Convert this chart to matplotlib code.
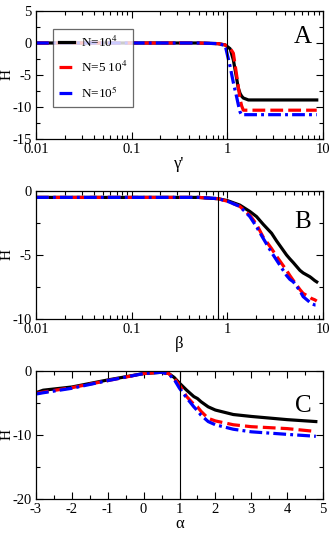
import numpy as np
import matplotlib
matplotlib.use("Agg")
import matplotlib.pyplot as plt
from matplotlib.ticker import FixedLocator, LogLocator, NullFormatter

plt.rcParams['font.family'] = ['Liberation Serif', 'DejaVu Serif']
plt.rcParams['mathtext.fontset'] = 'stix'
plt.rcParams['axes.unicode_minus'] = False

labels = ["N=10$^{4}$", "N=5 10$^{4}$", "N=10$^{5}$"]
colors = ["black", "red", "blue"]

# Panel A: H vs gamma'
gA = [0.01, 0.1, 0.5, 0.8, 0.95, 1.07, 1.156, 1.25, 1.30, 1.36, 1.41, 1.47, 1.66, 3.0, 8.6]
hA_1 = [0.0, 0.0, 0.0, -0.1, -0.3, -0.9, -2.65, -5.5, -7.0, -7.9, -8.3, -8.6, -8.9, -8.9, -8.9]
hA_2 = [0.0, 0.0, 0.0, -0.1, -0.3, -0.8, -1.6, -5.0, -6.8, -8.8, -9.8, -10.5, -10.5, -10.5, -10.5]
hA_3 = [0.0, 0.0, 0.0, -0.1, -0.4, -3.7, -6.2, -8.4, -9.6, -10.8, -11.25, -11.2, -11.2, -11.2, -11.2]

# Panel B: H vs beta
bB = [0.01, 0.1, 0.5, 0.8, 1.0, 1.35, 1.72, 2.02, 2.37, 2.9, 3.27, 4.16, 4.5, 4.9, 5.74, 6.2, 7.3, 7.6, 8.2, 8.6]
hB_1 = [-0.5, -0.5, -0.5, -0.6, -0.75, -1.1, -1.6, -2.0, -2.6, -3.3, -3.9, -5.0, -5.3, -5.6, -6.2, -6.4, -6.7, -6.8, -7.0, -7.1]
hB_2 = [-0.5, -0.5, -0.5, -0.6, -0.8, -1.2, -1.9, -2.6, -3.6, -4.5, -5.1, -6.2, -6.6, -7.0, -7.7, -8.0, -8.3, -8.4, -8.5, -8.6]
hB_3 = [-0.5, -0.5, -0.5, -0.6, -0.8, -1.2, -2.0, -2.8, -3.7, -4.8, -5.4, -6.6, -6.9, -7.1, -7.8, -8.25, -8.7, -8.8, -8.9, -8.9]

# Panel C: H vs alpha
aC = [-3.0, -2.8, -2.0, -1.0, 0.0, 0.5, 0.7, 0.85, 1.0, 1.2, 1.4, 1.5, 1.6, 1.8, 2.0, 2.5, 3.0, 4.0, 4.8]
hC_1 = [-3.4, -3.0, -2.5, -1.4, -0.4, -0.2, -0.4, -1.0, -1.9, -3.0, -4.0, -4.3, -4.8, -5.6, -6.1, -6.8, -7.1, -7.6, -7.9]
hC_2 = [-3.5, -3.3, -2.6, -1.5, -0.4, -0.2, -0.4, -1.1, -2.2, -4.0, -5.2, -5.6, -6.3, -7.4, -7.8, -8.4, -8.7, -9.0, -9.45]
hC_3 = [-3.6, -3.4, -2.7, -1.5, -0.4, -0.2, -0.5, -1.3, -2.7, -4.2, -5.6, -6.2, -6.9, -7.9, -8.4, -9.1, -9.5, -9.9, -10.2]

fig = plt.figure(figsize=(3.32, 5.45), dpi=100)
L, W = 36 / 332, 287 / 332
H = 128 / 545
axA = fig.add_axes([L, 1 - 139 / 545, W, H])
axB = fig.add_axes([L, 1 - 319 / 545, W, H])
axC = fig.add_axes([L, 1 - 499 / 545, W, H])

styles = [dict(ls='-', lw=2.3),
          dict(ls=(0, (4.0, 1.6)), lw=2.3),
          dict(ls=(0, (4.0, 1.3, 0.9, 1.3)), lw=2.3)]

def style_axes(ax, logx=False):
    ax.tick_params(which='both', direction='in', top=True, right=True, labelsize=10.5, pad=3)
    ax.tick_params(which='major', length=5, width=0.8)
    ax.tick_params(which='minor', length=2.8, width=0.8)
    if logx:
        ax.xaxis.set_minor_locator(LogLocator(base=10, subs=np.arange(2, 10)))
        ax.xaxis.set_minor_formatter(NullFormatter())
    for s in ax.spines.values():
        s.set_linewidth(0.9)
    ax.yaxis.set_label_coords(-0.079, 0.5)

# A
for y, c, st, lb in zip([hA_1, hA_2, hA_3], colors, styles, labels):
    axA.plot(gA, y, color=c, label=lb, **st)
axA.set_xscale('log')
axA.set_xlim(0.01, 10)
axA.set_ylim(-15, 5)
axA.axvline(1.0, color='black', lw=0.8)
axA.set_xticks([0.01, 0.1, 1, 10])
axA.set_xticklabels(['0.01', '0.1', '1', '10'])
axA.set_yticks([5, 0, -5, -10, -15])
axA.yaxis.set_minor_locator(FixedLocator([2.5, -2.5, -7.5, -12.5]))
axA.set_xlabel("γ'", fontsize=12, labelpad=0)
axA.set_ylabel("H", fontsize=11)
axA.text(0.93, 0.80, "A", transform=axA.transAxes, fontsize=18, ha='center', va='center')
leg = axA.legend(loc='upper left', bbox_to_anchor=(0.059, 0.86), fontsize=9.5,
                 frameon=True, fancybox=False, edgecolor='#444444', handlelength=1.15,
                 borderpad=0.45, labelspacing=0.75, handletextpad=0.5, borderaxespad=0)
leg.get_frame().set_linewidth(0.9)
style_axes(axA, logx=True)

# B
for y, c, st in zip([hB_1, hB_2, hB_3], colors, styles):
    axB.plot(bB, y, color=c, **st)
axB.set_xscale('log')
axB.set_xlim(0.01, 10)
axB.set_ylim(-10, 0)
axB.axvline(0.8, color='black', lw=0.8)
axB.set_xticks([0.01, 0.1, 1, 10])
axB.set_xticklabels(['0.01', '0.1', '1', '10'])
axB.set_yticks([0, -5, -10])
axB.yaxis.set_minor_locator(FixedLocator([-2.5, -7.5]))
axB.set_xlabel("β", fontsize=12, labelpad=0)
axB.set_ylabel("H", fontsize=11)
axB.text(0.93, 0.76, "B", transform=axB.transAxes, fontsize=18, ha='center', va='center')
style_axes(axB, logx=True)

# C
for y, c, st in zip([hC_1, hC_2, hC_3], colors, styles):
    axC.plot(aC, y, color=c, **st)
axC.set_xlim(-3, 5)
axC.set_ylim(-20, 0)
axC.axvline(1.0, color='black', lw=0.8)
axC.set_xticks(range(-3, 6))
axC.xaxis.set_minor_locator(FixedLocator(np.arange(-2.5, 5, 1.0)))
axC.set_yticks([0, -10, -20])
axC.yaxis.set_minor_locator(FixedLocator([-5, -15]))
axC.set_xlabel("α", fontsize=12, labelpad=0)
axC.set_ylabel("H", fontsize=11)
axC.text(0.93, 0.73, "C", transform=axC.transAxes, fontsize=18, ha='center', va='center')
style_axes(axC)

fig.savefig("out.png", dpi=100)
